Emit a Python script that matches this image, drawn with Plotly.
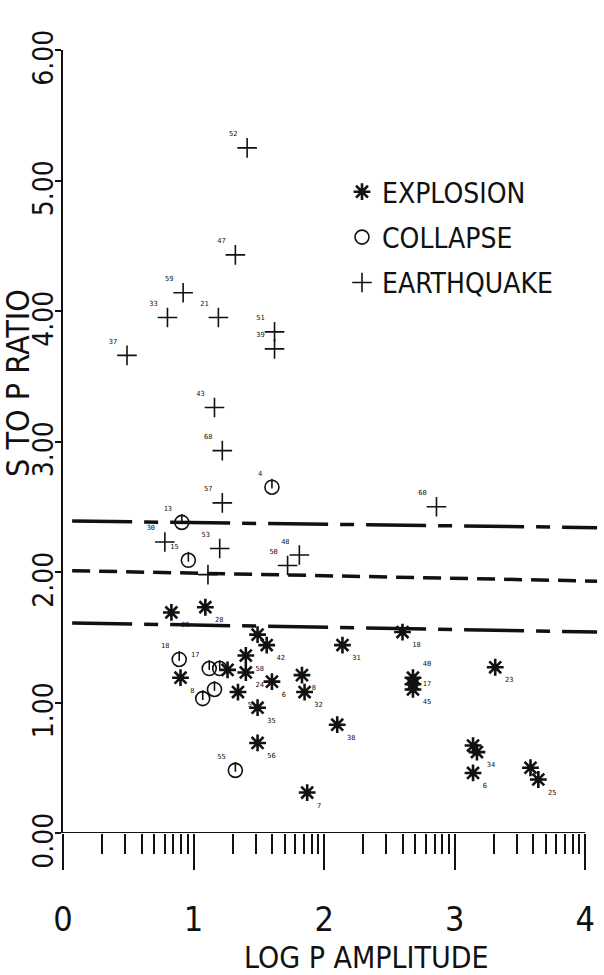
import math
import plotly.graph_objects as go

# ---------------- data ----------------
quake_x = [1.41, 1.32, 0.92, 0.80, 1.19, 1.62, 1.62, 0.49, 1.16, 1.22, 1.22, 0.78, 1.20, 1.81, 1.72, 2.86, 1.11]
quake_y = [5.25, 4.43, 4.14, 3.95, 3.95, 3.84, 3.71, 3.66, 3.26, 2.93, 2.53, 2.23, 2.18, 2.13, 2.05, 2.50, 1.98]
quake_lbl = ["52", "47", "59", "33", "21", "51", "39", "37", "43", "68", "57", "30", "53", "48", "50", "60", ""]

coll_x = [1.60, 0.91, 0.96, 0.89, 1.12, 1.20, 1.07, 1.16, 1.32]
coll_y = [2.65, 2.38, 2.09, 1.33, 1.26, 1.26, 1.03, 1.10, 0.48]
coll_lbl = ["4", "13", "15", "18", "17", "", "", "", "55"]

expl_x = [0.83, 1.09, 0.90, 1.26, 1.49, 1.56, 1.40, 1.40, 1.34, 1.60, 1.83, 1.85, 1.49, 1.49,
          1.87, 2.10, 2.14, 2.60, 3.31, 2.68, 2.68, 2.68, 3.14, 3.17, 3.14, 3.58, 3.64]
expl_y = [1.69, 1.73, 1.19, 1.25, 1.52, 1.44, 1.36, 1.23, 1.08, 1.16, 1.21, 1.08, 0.96, 0.69,
          0.31, 0.83, 1.44, 1.54, 1.27, 1.19, 1.14, 1.10, 0.67, 0.62, 0.46, 0.50, 0.41]
expl_lbl = ["29", "28", "8", "", "", "42", "58", "24", "5", "6", "8", "32", "35", "56",
            "7", "38", "31", "18", "23", "40", "17", "45", "", "34", "6", "", "25"]

# discriminant lines (start / end points)
line_x = [0.07, 4.09]
upper_y = [2.39, 2.34]
middle_y = [2.01, 1.93]
lower_y = [1.61, 1.54]

# axes
x_major = [0, 1, 2, 3, 4]
x_minor = [d + math.log10(k) for d in range(4) for k in range(2, 10)]
y_ticks = [0, 1, 2, 3, 4, 5, 6]
x_range = [0, 4.12]
y_range = [0, 6]

# ---------------- figure ----------------
W, H = 604, 975
M = dict(l=63, r=3, t=50, b=142)
plot_w = W - M["l"] - M["r"]
plot_h = H - M["t"] - M["b"]
px_per_y = plot_h / (y_range[1] - y_range[0])

FONT = "Liberation Sans Narrow, DejaVu Sans Condensed, DejaVu Sans Mono, sans-serif"
INK = "#111111"

fig = go.Figure()

line_specs = [
    (upper_y, "60px,12px,14px,12px"),
    (middle_y, "18px,9px"),
    (lower_y, "60px,12px,14px,12px"),
]
for ys, dash in line_specs:
    fig.add_trace(go.Scatter(x=line_x, y=ys, mode="lines",
                             line=dict(color=INK, width=3.5, dash=dash),
                             showlegend=False, hoverinfo="skip"))

# horizontal axis line from 0 to 4
fig.add_trace(go.Scatter(x=[min(x_major), max(x_major)], y=[y_range[0]] * 2, mode="lines",
                         line=dict(color=INK, width=2), showlegend=False, hoverinfo="skip",
                         cliponaxis=False))

MS = 14
LBL = dict(family="DejaVu Sans Mono", size=7, color=INK)
expl_pos = ["bottom right"] * len(expl_x)
for lbl, pos in (("40", "top right"), ("17", "middle right")):
    expl_pos[expl_lbl.index(lbl)] = pos

fig.add_trace(go.Scatter(
    x=expl_x, y=expl_y, mode="markers+text", name="EXPLOSION",
    text=expl_lbl, textposition=expl_pos, textfont=LBL,
    marker=dict(symbol="asterisk-open", size=MS, color=INK, line=dict(color=INK, width=2.6)),
    legendgroup="e"))

fig.add_trace(go.Scatter(
    x=coll_x, y=coll_y, mode="markers+text", name="COLLAPSE",
    text=coll_lbl, textposition="top left", textfont=LBL,
    marker=dict(symbol="circle-open", size=MS, color=INK, line=dict(color=INK, width=1.6)),
    legendgroup="c"))
# collapse symbol stem (top of circle to centre)
off = (MS / 4) / px_per_y
fig.add_trace(go.Scatter(
    x=coll_x, y=[v + off for v in coll_y], mode="markers", showlegend=False,
    marker=dict(symbol="line-ns-open", size=MS / 2, color=INK, line=dict(color=INK, width=1.6)),
    legendgroup="c", hoverinfo="skip"))

fig.add_trace(go.Scatter(
    x=quake_x, y=quake_y, mode="markers+text", name="EARTHQUAKE",
    text=quake_lbl, textposition="top left", textfont=LBL,
    marker=dict(symbol="cross-thin-open", size=MS, color=INK, line=dict(color=INK, width=1.6)),
    legendgroup="q"))

fig.update_layout(
    width=W, height=H, margin=M,
    paper_bgcolor="white", plot_bgcolor="white",
    showlegend=True,
    legend=dict(x=(342 - M["l"]) / plot_w, y=1 - (167 - M["t"]) / plot_h,
                xanchor="left", yanchor="top",
                font=dict(family=FONT, size=28, color=INK),
                tracegroupgap=6, bgcolor="rgba(0,0,0,0)", itemsizing="trace"),
    xaxis=dict(range=x_range, showgrid=False, zeroline=False, showline=False, automargin=False,
               tickmode="array", tickvals=x_major, ticktext=[str(v) for v in x_major],
               ticks="outside", ticklen=36, tickwidth=2, tickcolor=INK,
               tickfont=dict(family=FONT, size=34, color=INK), ticklabelstandoff=20,
               minor=dict(tickmode="array", tickvals=x_minor, ticks="outside",
                          ticklen=20, tickwidth=2, tickcolor=INK)),
    yaxis=dict(range=y_range, showgrid=False, zeroline=False, showline=True, automargin=False,
               linecolor=INK, linewidth=2,
               tickmode="array", tickvals=y_ticks, ticks="outside", ticklen=6,
               tickwidth=1.5, tickcolor=INK, tickformat=".2f", tickangle=-90,
               ticklabelshift=12, ticklabelstandoff=-9,
               tickfont=dict(family=FONT, size=28, color=INK)),
    annotations=[
        dict(text="LOG P AMPLITUDE", xref="paper", yref="paper",
             x=(366 - M["l"]) / plot_w, y=-(957 - (H - M["b"])) / plot_h,
             xanchor="center", yanchor="middle", showarrow=False,
             font=dict(family=FONT, size=30, color=INK)),
        dict(text="S TO P RATIO", xref="paper", yref="paper",
             x=-(M["l"] - 18) / plot_w, y=1 - (383 - M["t"]) / plot_h,
             xanchor="center", yanchor="middle", showarrow=False, textangle=-90,
             font=dict(family=FONT, size=32, color=INK)),
    ],
)

fig.write_html("out.html", config={"displayModeBar": False},
               post_script="document.body.style.margin='0px';")
